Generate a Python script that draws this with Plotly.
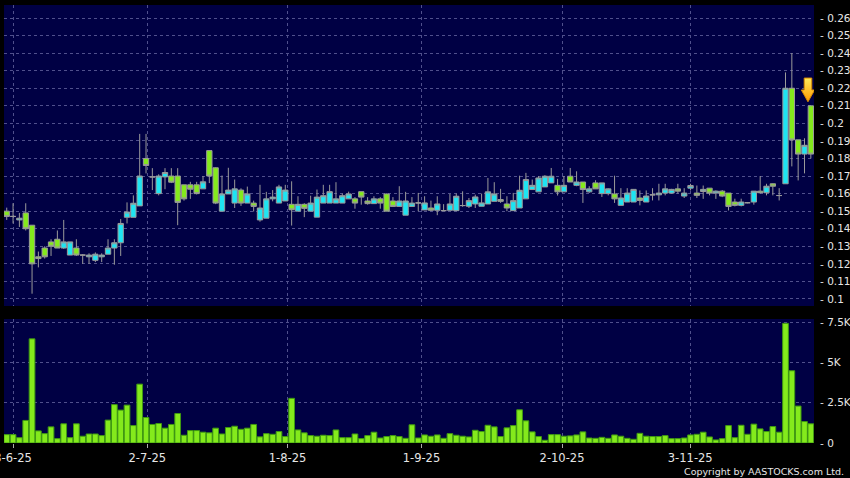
import plotly.graph_objects as go

# Kursdaten je Handelstag (Index 0 = erster Tag im Chart)
opens = [
    .150, .147, .145, .149, .142, .124, .129, .1325, .134, .129,
    .125, .129, .125, .124, .122, .124, .1255, .129, .132, .1465,
    .1465, .153, .180, .1695, .160, .1695, .170, .170, .165, .165,
    .165, .1627, .1845, .1747, .150, .1598, .1546, .162, .1546, .1546,
    .145, .146, .157, .1546, .1558, .1539, .150, .1539, .150, .1466,
    .1546, .1546, .1546, .1546, .157, .157, .1611, .1558, .1543, .157,
    .1598, .1558, .1527, .1477, .1527, .1547, .1507, .1518, .1505, .1503,
    .1505, .1503, .1532, .1528, .1541, .1528, .1541, .1556, .1566, .1541,
    .1503, .1518, .157, .1623, .161, .1638, .1661, .1647, .161, .1699,
    .1647, .1666, .161, .1661, .160, .160, .1598, .1533, .1552, .1552,
    .1575, .1552, .1593, .1593, .1603, .1603, .1627, .1586, .1631, .1603,
    .1612, .1631, .1603, .1614, .1603, .1552, .1533, .1548, .1552, .1614,
    .1605, .1656, .1589, .1656, .220, .1906, .1825, .210,
]
highs = [
    .152, .1545, .149, .1545, .142, .127, .130, .134, .139, .145,
    .1325, .134, .1255, .126, .1265, .126, .134, .134, .1455, .155,
    .159, .194, .194, .1745, .171, .1745, .1745, .1745, .165, .1667,
    .1667, .170, .1845, .175, .1703, .1747, .168, .163, .164, .156,
    .165, .161, .162, .165, .165, .167, .1585, .1545, .1588, .1623,
    .165, .165, .1665, .160, .1611, .158, .1611, .158, .1585, .158,
    .160, .158, .1642, .161, .158, .1604, .1585, .156, .1585, .154,
    .1598, .160, .1613, .1575, .1594, .160, .1689, .1665, .1627, .1585,
    .1604, .1702, .1718, .168, .170, .1705, .1746, .1684, .170, .1746,
    .1727, .1666, .1642, .1676, .1661, .163, .1702, .1631, .1631, .1626,
    .1618, .1618, .1631, .1656, .1656, .1627, .1656, .1631, .1656, .1646,
    .1646, .1631, .1618, .162, .1603, .1571, .1571, .1552, .1614, .170,
    .1656, .1658, .1631, .229, .240, .1906, .1915, .210,
]
lows = [
    .145, .143, .141, .139, .103, .118, .123, .1245, .129, .1285,
    .125, .1245, .120, .120, .121, .121, .1255, .1195, .1245, .143,
    .1465, .153, .1715, .162, .159, .1625, .166, .142, .156, .157,
    .1595, .1627, .166, .154, .150, .1598, .1518, .153, .1546, .1498,
    .144, .146, .1556, .1546, .1558, .1418, .150, .1466, .150, .1466,
    .1546, .1546, .1546, .1546, .157, .1514, .1537, .1537, .1543, .1514,
    .150, .1527, .1527, .1477, .1527, .150, .1507, .150, .1477, .1503,
    .1505, .1503, .1525, .1518, .1518, .1528, .1541, .1556, .1547, .150,
    .1503, .1518, .157, .1623, .161, .1638, .1661, .1589, .161, .1666,
    .1642, .1547, .1604, .1627, .1581, .159, .1547, .1533, .1552, .1552,
    .1533, .1552, .1561, .1561, .159, .160, .160, .1575, .1618, .1575,
    .157, .159, .157, .158, .1504, .1527, .1527, .1545, .1537, .160,
    .159, .159, .1561, .1656, .1755, .1675, .1715, .180,
]
closes = [
    .147, .147, .146, .140, .120, .123, .124, .130, .129, .1325,
    .1325, .125, .125, .125, .1255, .125, .129, .132, .143, .1495,
    .1545, .170, .176, .1695, .170, .172, .1665, .155, .157, .1625,
    .160, .1667, .170, .1546, .1598, .162, .1627, .1546, .1598, .1527,
    .1518, .157, .158, .1638, .162, .1508, .1539, .1516, .1546, .158,
    .1588, .1611, .157, .1588, .1598, .1546, .158, .1543, .157, .1546,
    .150, .1527, .1558, .1558, .1546, .1547, .1547, .1505, .1541, .1503,
    .1541, .1585, .1532, .156, .1581, .1547, .161, .1598, .1556, .1518,
    .156, .1619, .168, .1647, .1689, .1699, .1699, .161, .1647, .1666,
    .1666, .1623, .1627, .1627, .1661, .1627, .157, .1575, .1603, .1624,
    .1561, .1586, .1593, .1603, .1627, .1624, .1614, .1603, .1646, .159,
    .1624, .1603, .1614, .1586, .1527, .1533, .1552, .1548, .1614, .1605,
    .1642, .1642, .1589, .220, .1906, .1825, .1875, .1825,
]
# Umsatz in Tausend
volume_k = [
    0.52, 0.52, 0.33, 1.40, 6.46, 0.75, 0.58, 1.00, 0.27, 1.19,
    0.33, 1.19, 0.42, 0.56, 0.56, 0.46, 1.42, 2.38, 2.04, 2.35,
    1.08, 3.65, 1.58, 1.15, 1.21, 0.92, 1.15, 1.83, 0.48, 0.77,
    0.77, 0.67, 0.63, 0.92, 0.56, 0.96, 1.04, 0.85, 0.92, 1.15,
    0.38, 0.58, 0.54, 0.71, 0.40, 2.77, 0.81, 0.63, 0.46, 0.42,
    0.48, 0.46, 0.81, 0.33, 0.33, 0.56, 0.27, 0.46, 0.67, 0.31,
    0.40, 0.46, 0.40, 0.29, 1.13, 0.31, 0.50, 0.42, 0.50, 0.29,
    0.58, 0.48, 0.42, 0.375, 0.79, 0.71, 1.10, 1.00, 0.40, 0.94,
    1.08, 2.06, 1.375, 0.69, 0.40, 0.17, 0.52, 0.52, 0.42, 0.44,
    0.50, 0.69, 0.31, 0.29, 0.35, 0.29, 0.50, 0.42, 0.29, 0.23,
    0.60, 0.42, 0.40, 0.40, 0.46, 0.27, 0.27, 0.31, 0.50, 0.54,
    0.67, 0.375, 0.19, 0.27, 1.08, 0.33, 1.10, 0.54, 1.17, 0.875,
    0.71, 1.02, 0.67, 7.42, 4.48, 2.29, 1.33, 1.19,
]
date_labels = ["3-6-25", "2-7-25", "1-8-25", "1-9-25", "2-10-25", "3-11-25"]
date_pos = [1.0, 22.2, 44.35, 65.5, 87.7, 107.95]

price_ticks = [round(0.10 + 0.01 * i, 2) for i in range(17)]
volume_ticks = [0, 2500, 5000, 7500]
volume_labels = ["0", "2.5K", "5K", "7.5K"]

days = list(range(len(opens)))
volumes = [v * 1000 for v in volume_k]

NAVY = "#000044"
GRID = "#50508c"
CYAN = "#1ee4f2"
LIME = "#84ea1c"
WICK = "#9a9a9a"
TEXT = "#e6e6e6"

fig = go.Figure()

# Kerzen
fig.add_trace(go.Candlestick(
    x=days, open=opens, high=highs, low=lows, close=closes,
    xaxis="x2", yaxis="y2",
    whiskerwidth=0,
    increasing=dict(fillcolor=CYAN, line=dict(color=WICK, width=1)),
    decreasing=dict(fillcolor=LIME, line=dict(color=WICK, width=1)),
    hoverinfo="none",
))

# Pfeil über der letzten Kerze
ax = days[-1] - 0.45
top = highs[-1] + 0.0158
neck = highs[-1] + 0.009
tip = highs[-1] + 0.0023
fig.add_trace(go.Scatter(
    x=[ax - 0.6, ax + 0.6, ax + 0.6, ax + 1.05, ax, ax - 1.05, ax - 0.6, ax - 0.6],
    y=[top, top, neck, neck, tip, neck, neck, top],
    xaxis="x2", yaxis="y2",
    mode="lines", fill="toself",
    fillgradient=dict(type="vertical", colorscale=[[0, "#ff9a00"], [1, "#ffe95a"]]),
    line=dict(color="#d88a00", width=1),
    hoverinfo="skip",
))

# Umsatz
fig.add_trace(go.Bar(
    x=days, y=volumes,
    marker=dict(color=LIME, line=dict(color="#3f9a12", width=1)),
    hoverinfo="skip",
))

grid = dict(showgrid=True, gridcolor=GRID, griddash="3px,3px", gridwidth=1,
            zeroline=False, showline=False, automargin=False)

fig.update_layout(
    width=850, height=478,
    paper_bgcolor="black", plot_bgcolor=NAVY,
    margin=dict(l=4, r=36, t=5, b=35),
    showlegend=False,
    boxgap=0.16, boxgroupgap=0, bargap=0.1,
    font=dict(family="DejaVu Sans", color=TEXT, size=10.5),
    xaxis=dict(
        domain=[0, 1], anchor="y", range=[-0.43, 127.5],
        tickvals=date_pos, ticktext=date_labels,
        ticks="outside", ticklen=4, tickcolor="#aaaaaa",
        tickfont=dict(size=11.5), ticklabeloverflow="allow",
        rangeslider=dict(visible=False), **grid,
    ),
    xaxis2=dict(
        domain=[0, 1], anchor="y2", matches="x",
        tickvals=date_pos, showticklabels=False,
        rangeslider=dict(visible=False), **grid,
    ),
    yaxis=dict(
        domain=[0, 0.2831], anchor="x", side="right", range=[0, 7690],
        tickvals=volume_ticks, ticktext=["- " + t for t in volume_labels],
        ticklabelstandoff=5, ticklabeloverflow="allow", **grid,
    ),
    yaxis2=dict(
        domain=[0.3128, 1], anchor="x2", side="right", range=[0.096, 0.2674],
        tickvals=price_ticks, ticktext=["- " + f"{p:g}" for p in price_ticks],
        ticklabelstandoff=5, ticklabeloverflow="allow", **grid,
    ),
    annotations=[dict(
        text="Copyright by AASTOCKS.com Ltd.", showarrow=False,
        xref="paper", yref="paper", x=1.0395, y=-0.064,
        xanchor="right", yanchor="middle",
        font=dict(size=9.5, color=TEXT),
    )],
)

# Seitenrand des Browsers entfernen, damit die Grafik bei (0,0) beginnt
fig.write_html("out.html", config={"displayModeBar": False},
               post_script="document.body.style.margin='0';")
